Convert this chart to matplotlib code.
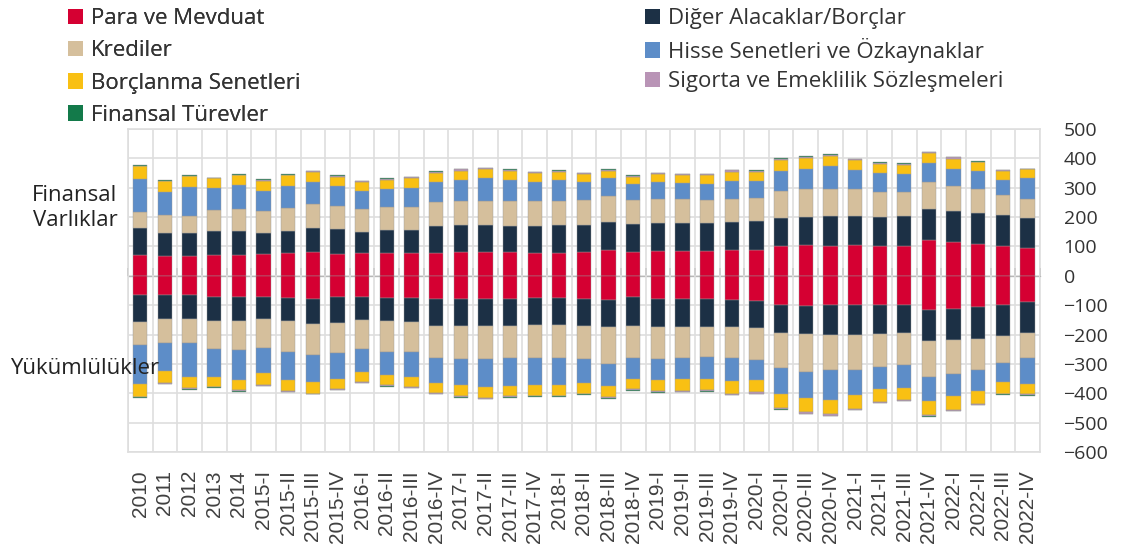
import numpy as np
import matplotlib
matplotlib.use("Agg")
import matplotlib.pyplot as plt
from matplotlib.patches import Patch

plt.rcParams["font.family"] = ["Open Sans", "DejaVu Sans"]

years = ["2010", "2011", "2012", "2013", "2014"]
quarters = [f"{y}-{q}" for y in range(2015, 2023) for q in ["I", "II", "III", "IV"]]
labels = years + quarters

# varliklar (assets), milyar
a_para = [71, 68, 66, 72, 72, 73, 76, 81, 75, 78, 76, 76,
          79, 81, 80, 80, 78, 78, 81, 88, 80, 84, 84, 84, 87, 89, 100, 105, 101, 105, 100, 103, 122, 114, 108, 100, 94]
a_diger = [91, 79, 79, 80, 80, 72, 75, 81, 83, 71, 79, 80,
           90, 91, 92, 91, 91, 94, 92, 94, 98, 97, 95, 97, 95, 96, 96, 95, 103, 99, 100, 99, 107, 107, 107, 106, 104]
a_kredi = [55, 59, 60, 71, 75, 76, 79, 81, 78, 79, 78, 78,
           82, 84, 84, 83, 84, 82, 84, 91, 80, 81, 81, 76, 79, 81, 94, 97, 91, 92, 86, 82, 89, 84, 81, 70, 63]
a_hisse = [113, 79, 96, 75, 81, 67, 76, 75, 70, 62, 63, 65,
           68, 70, 76, 72, 68, 72, 62, 59, 54, 57, 55, 56, 63, 57, 67, 67, 79, 65, 64, 63, 66, 59, 60, 50, 72]
a_borc = [44, 38, 38, 34, 34, 36, 36, 35, 32, 31, 31, 33,
          32, 32, 32, 32, 30, 29, 27, 26, 25, 26, 28, 30, 31, 32, 38, 38, 34, 33, 31, 31, 33, 35, 31, 32, 29]
a_sigorta = [1, 1, 2, 1, 2, 3, 2, 4, 3, 1, 4, 5, 4, 4, 2, 3, 3, 3, 3, 3, 2, 4, 3, 3, 4, 3, 4, 4, 3, 3, 3, 3, 3, 4, 1, 1, 1]
a_turev = [1, 1, 1, 1, 1, 1, 1, 1, 1, 1, 1, 1, 1, 1, 1, 1, 1, 1, 1, 3, 3, 2, 2, 2, 1, 2, 1, 2, 2, 1, 2, 2, 2, 2, 2, 1, 2]

# yukumlulukler (liabilities), drawn below zero
l_para = [67, 67, 67, 72, 72, 73, 74, 80, 73, 73, 74, 74,
          78, 80, 80, 80, 75, 75, 79, 83, 73, 78, 78, 78, 81, 87, 99, 104, 101, 101, 98, 98, 116, 113, 107, 98, 90]
l_diger = [92, 80, 80, 83, 83, 74, 80, 83, 87, 76, 81, 82,
           94, 91, 91, 91, 94, 92, 92, 92, 98, 96, 96, 96, 95, 92, 95, 95, 99, 100, 99, 98, 107, 106, 107, 107, 106]
l_kredi = [78, 83, 81, 94, 97, 99, 104, 107, 103, 100, 103, 105,
           108, 113, 112, 109, 112, 113, 114, 125, 109, 109, 107, 103, 103, 109, 121, 127, 120, 120, 114, 107, 122, 116, 108, 92, 84]
l_hisse = [133, 95, 117, 94, 103, 86, 96, 91, 87, 79, 80, 82,
           84, 89, 97, 95, 91, 91, 81, 75, 71, 73, 72, 73, 80, 68, 89, 91, 104, 86, 76, 78, 82, 73, 71, 63, 87]
l_borc = [42, 39, 38, 34, 35, 39, 39, 40, 34, 34, 35, 35,
          34, 36, 36, 36, 36, 38, 35, 38, 34, 35, 38, 39, 43, 41, 47, 48, 48, 46, 43, 43, 47, 48, 44, 41, 36]
l_sigorta = [2, 3, 4, 3, 3, 3, 2, 2, 4, 3, 3, 3, 3, 5, 4, 3, 3, 2, 3, 2, 3, 3, 3, 3, 3, 4, 4, 4, 4, 4, 3, 3, 4, 4, 2, 3, 4]
l_turev = [1, 1, 1, 1, 1, 1, 1, 1, 1, 1, 1, 1, 1, 1, 1, 1, 1, 1, 1, 4, 3, 4, 2, 4, 1, 3, 1, 2, 1, 1, 1, 1, 3, 1, 1, 1, 1]

names = ["Para ve Mevduat", "Diğer Alacaklar/Borçlar", "Krediler", "Hisse Senetleri ve Özkaynaklar",
         "Borçlanma Senetleri", "Sigorta ve Emeklilik Sözleşmeleri", "Finansal Türevler"]
colors = ["#d50032", "#1c3045", "#d5bf9c", "#5d8dc8", "#f9c013", "#b994b6", "#137a4a"]
assets = [a_para, a_diger, a_kredi, a_hisse, a_borc, a_sigorta, a_turev]
liabs = [l_para, l_diger, l_kredi, l_hisse, l_borc, l_sigorta, l_turev]

fig = plt.figure(figsize=(11.23, 5.57), dpi=100)
ax = fig.add_axes([0.114, 0.1885, 0.812, 0.58])

x = np.arange(len(labels))
w = 0.58
pos = np.zeros(len(x))
neg = np.zeros(len(x))
for vals_a, vals_l, c in zip(assets, liabs, colors):
    va = np.array(vals_a, dtype=float)
    vl = -np.array(vals_l, dtype=float)
    ax.bar(x, va, w, bottom=pos, color=c, edgecolor="#9a9a9a", linewidth=0.3, zorder=3)
    ax.bar(x, vl, w, bottom=neg, color=c, edgecolor="#9a9a9a", linewidth=0.3, zorder=3)
    pos += va
    neg += vl

ax.set_xlim(-0.5, len(x) - 0.5)
ax.set_ylim(-600, 500)
ax.set_yticks(np.arange(-600, 501, 100))
ax.yaxis.tick_right()
ax.tick_params(axis="y", length=0, pad=17, labelsize=14, labelcolor="#333333")

ax.set_xticks(x)
ax.set_xticklabels(labels, rotation=90, family=["Liberation Sans", "DejaVu Sans"],
                   fontsize=15, color="#404040", va="top")
ax.set_xticks(np.arange(-0.5, len(x), 1), minor=True)
ax.tick_params(axis="x", which="both", length=0, pad=13)

ax.grid(axis="y", color="#dedede", lw=1.2, zorder=0)
ax.grid(axis="x", which="minor", color="#dedede", lw=1.2, zorder=0)
for s in ax.spines.values():
    s.set_color("#dedede")
    s.set_linewidth(1.2)

# zero line with small ticks at category boundaries
zero = ax.secondary_xaxis((0 - ax.get_ylim()[0]) / (ax.get_ylim()[1] - ax.get_ylim()[0]))
zero.set_xticks(np.arange(-0.5, len(x), 1))
zero.set_xticklabels([])
zero.tick_params(length=6, width=1.2, color="#6e6e6e", direction="out")
zero.spines["bottom"].set_color("#6e6e6e")
zero.spines["bottom"].set_linewidth(1.6)
zero.spines["bottom"].set_zorder(5)

# legend: two columns placed separately so rows line up
leg_kw = dict(loc="upper left", frameon=False, fontsize=16, handlelength=0.7, handleheight=0.7,
              handletextpad=0.35, borderpad=0, borderaxespad=0, labelcolor="#333333")
col1 = [Patch(facecolor=colors[i], label=names[i]) for i in [0, 2, 4, 6]]
col2 = [Patch(facecolor=colors[i], label=names[i]) for i in [1, 3, 5]]
fig.add_artist(fig.legend(handles=col1, bbox_to_anchor=(0.0605, 0.985), labelspacing=0.5, **leg_kw))
fig.legend(handles=col2, bbox_to_anchor=(0.5743, 0.985), labelspacing=0.38, **leg_kw)

fig.text(75 / 1123, 1 - 208 / 557, "Finansal\nVarlıklar", ha="center", va="center",
         fontsize=16, color="#222222", linespacing=1.3)
fig.text(10 / 1123, 1 - 368 / 557, "Yükümlülükler", ha="left", va="center",
         fontsize=16, color="#222222")

fig.savefig("out.png", dpi=100)
